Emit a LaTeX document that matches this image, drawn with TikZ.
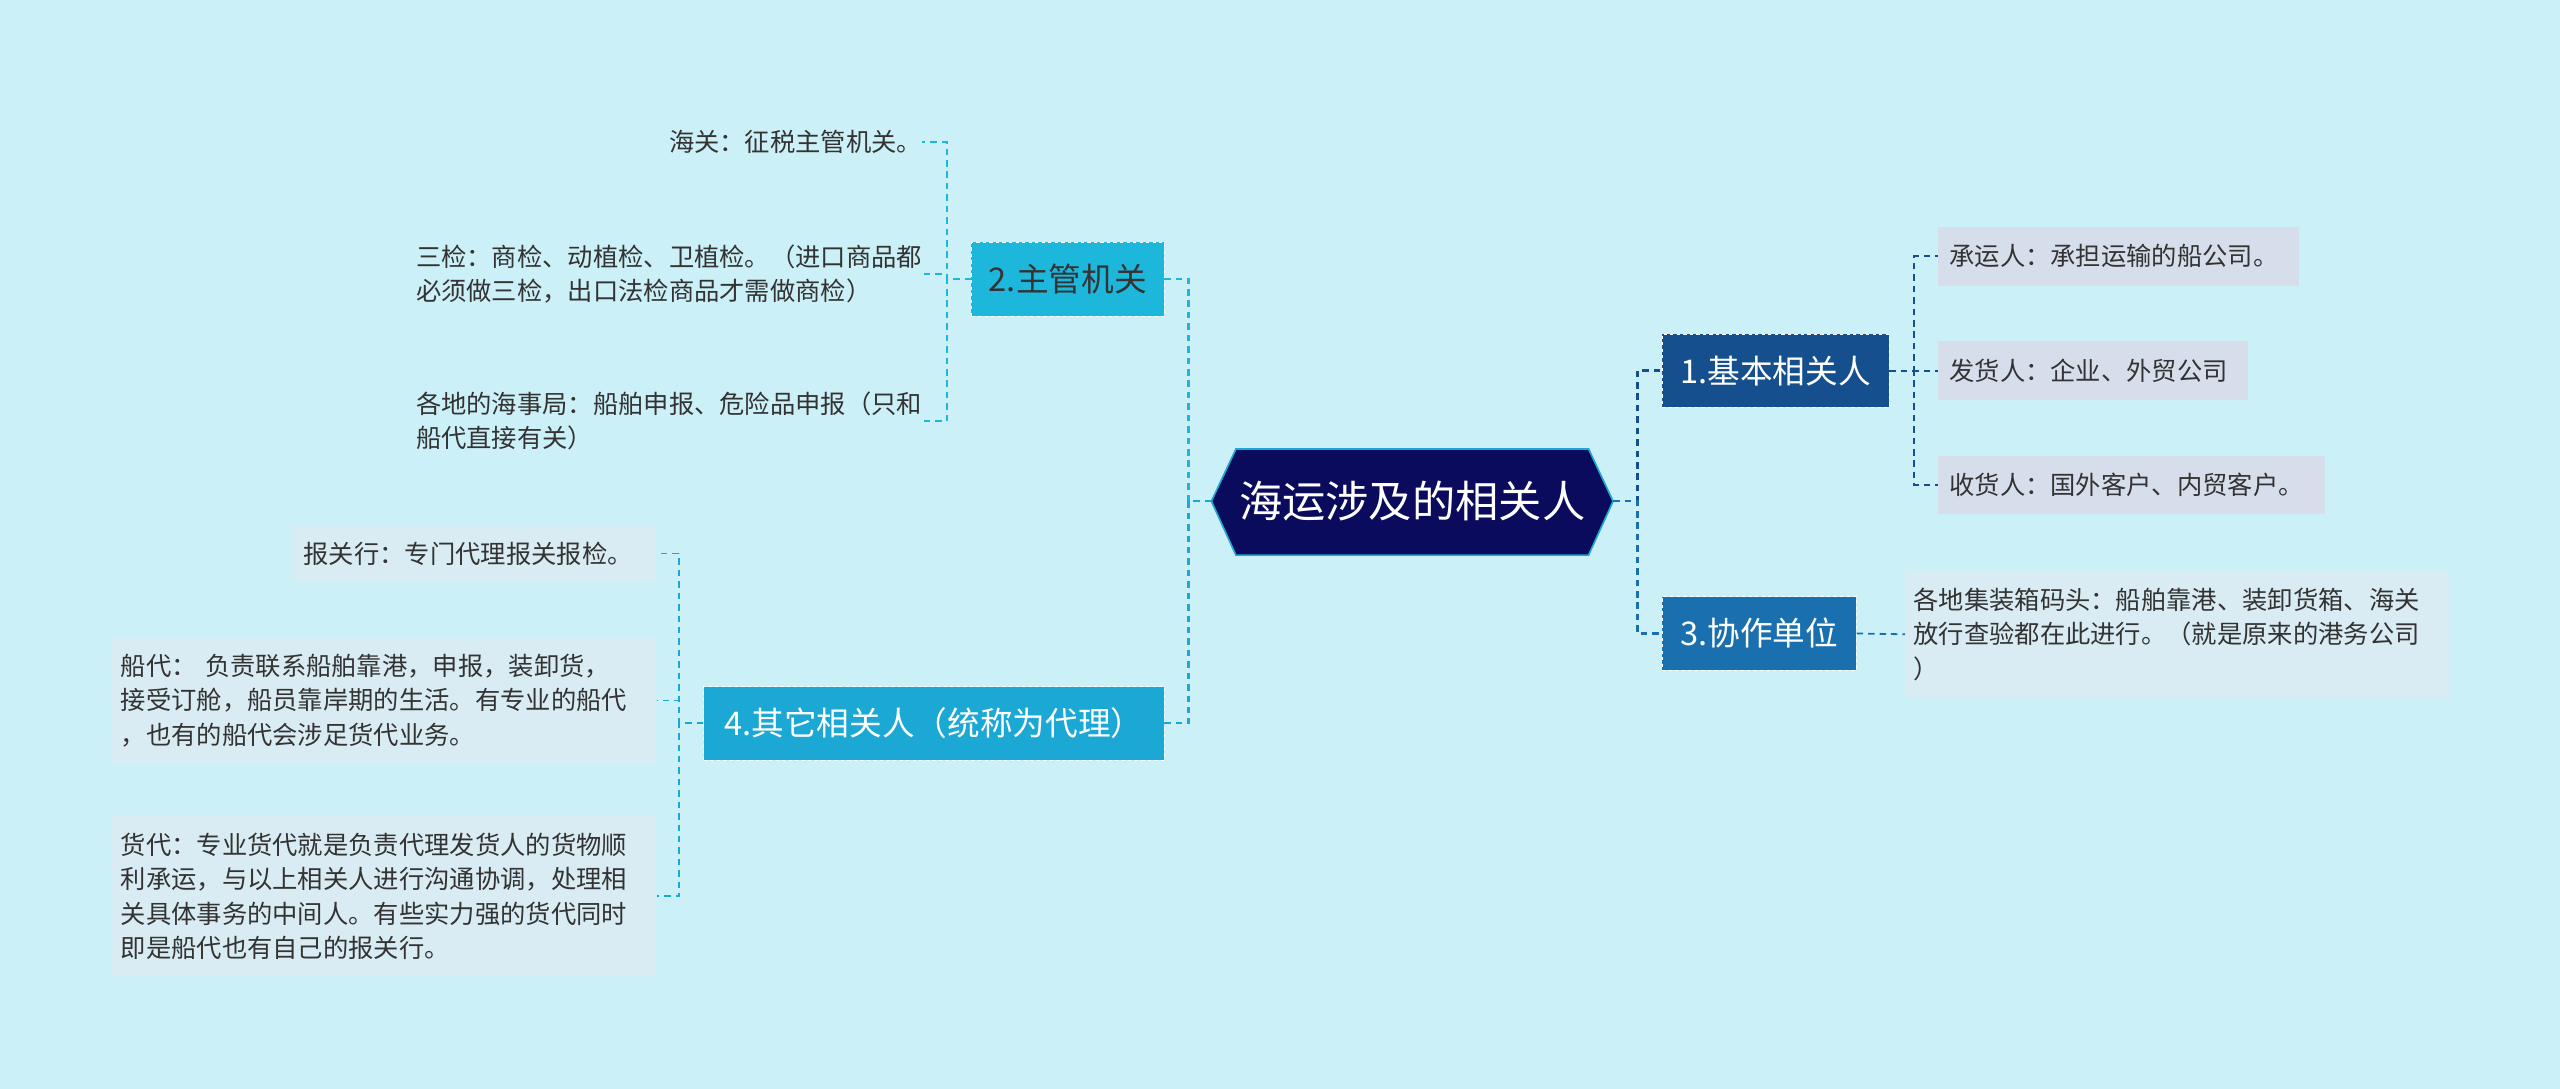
\documentclass[tikz,border=0pt]{standalone}
\usepackage{fontspec}
\setmainfont{Noto Sans CJK SC}
\definecolor{bgcol}{HTML}{CCF0F7}
\definecolor{rootcol}{HTML}{0B0B5E}
\definecolor{onecol}{HTML}{164F8E}
\definecolor{threecol}{HTML}{1A70AE}
\definecolor{twocol}{HTML}{1DB7DC}
\definecolor{fourcol}{HTML}{1CA8D4}
\definecolor{leafcol}{HTML}{D6DEEC}
\definecolor{leaftwo}{HTML}{D9ECF3}
\definecolor{textcol}{HTML}{333333}
\tikzset{
	branch/.style={inner sep=0pt, minimum height=45pt, font=\fontsize{20}{24}\selectfont, draw=white, dashed, dash pattern=on 2pt off 2pt},
	leaf/.style={inner sep=0pt, font=\fontsize{15.5}{21}\selectfont, text=textcol, align=left},
	link/.style={dashed, dash pattern=on 4pt off 3pt, line width=1.4pt}
}
\begin{document}
\begin{tikzpicture}[x=1pt, y=-1pt]
	\fill[bgcol] (0,0) rectangle (1568,667);
	\useasboundingbox (0,0) rectangle (1568,667);
	% Mitte
	\fill[rootcol, draw=fourcol, line width=1pt] (742,307) -- (757,275) -- (973,275) -- (988,307)
		-- (973,340) -- (757,340) -- cycle;
	\node[text=white, font=\fontsize{26.5}{30}\selectfont] (root) at (865,307) {海运涉及的相关人};
	\coordinate (rootR) at (988,307);
	\coordinate (rootL) at (742,307);
	% Aeste
	\node[branch, fill=onecol, text=white, minimum width=139pt] (one) at (1087.5,227) {1.基本相关人};
	\node[branch, fill=threecol, text=white, minimum width=119pt] (three) at (1077.5,388) {3.协作单位};
	\node[branch, fill=twocol, text=textcol, minimum width=118pt] (two) at (654,171) {2.主管机关};
	\node[branch, fill=fourcol, text=white, minimum width=282pt] (four) at (572,443) {4.其它相关人（统称为代理）};
	% Blaetter rechts
	\node[leaf, fill=leafcol, minimum width=221pt, minimum height=36pt, text width=207pt] (carrier) at (1297.5,157) {承运人：承担运输的船公司。};
	\node[leaf, fill=leafcol, minimum width=190pt, minimum height=36pt, text width=176pt] (shipper) at (1282,227) {发货人：企业、外贸公司};
	\node[leaf, fill=leafcol, minimum width=237pt, minimum height=36pt, text width=223pt] (consignee) at (1305.5,297) {收货人：国外客户、内贸客户。};
	\node[leaf, fill=leaftwo, minimum width=333pt, minimum height=77pt, text width=323pt] (terminal) at (1333.5,388.5)
		{各地集装箱码头：船舶靠港、装卸货箱、海关\\放行查验都在此进行。（就是原来的港务公司\\）};
	% Blaetter links
	\node[leaf, anchor=east] (customs) at (565,87) {海关：征税主管机关。};
	\node[leaf, anchor=east] (inspect) at (565,168) {三检：商检、动植检、卫植检。（进口商品都\\必须做三检，出口法检商品才需做商检）};
	\node[leaf, anchor=east] (msa) at (565,258) {各地的海事局：船舶申报、危险品申报（只和\\船代直接有关）};
	\node[leaf, fill=leaftwo, minimum width=222pt, minimum height=34pt, text width=210pt] (broker) at (291,339) {报关行：专门代理报关报检。};
	\node[leaf, fill=leaftwo, minimum width=334pt, minimum height=78pt, text width=322pt] (shipagent) at (235,429)
		{船代： 负责联系船舶靠港，申报，装卸货，\\接受订舱，船员靠岸期的生活。有专业的船代\\，也有的船代会涉足货代业务。};
	\node[leaf, fill=leaftwo, minimum width=334pt, minimum height=98pt, text width=322pt] (forwarder) at (235,549)
		{货代：专业货代就是负责代理发货人的货物顺\\利承运，与以上相关人进行沟通协调，处理相\\关具体事务的中间人。有些实力强的货代同时\\即是船代也有自己的报关行。};
	% Verbindungen
	\draw[link, onecol] (rootR) -- ++(15,0) |- (one.west);
	\draw[link, threecol] (rootR) -- ++(15,0) |- (three.west);
	\draw[link, twocol] (rootL) -- ++(-14,0) |- (two.east);
	\draw[link, fourcol] (rootL) -- ++(-14,0) |- (four.east);
	\foreach \leafname in {carrier,shipper,consignee}
		\draw[link, onecol, line width=1.1pt] (one.east) -- ++(15,0) |- (\leafname.west);
	\draw[link, threecol, line width=1.1pt] (three.east) -- (terminal.west);
	\foreach \leafname in {customs,inspect,msa}
		\draw[link, twocol, line width=1.1pt] (two.west) -- ++(-15,0) |- (\leafname.east);
	\foreach \leafname in {broker,shipagent,forwarder}
		\draw[link, fourcol, line width=1.1pt] (four.west) -- ++(-15,0) |- (\leafname.east);
\end{tikzpicture}
\end{document}
